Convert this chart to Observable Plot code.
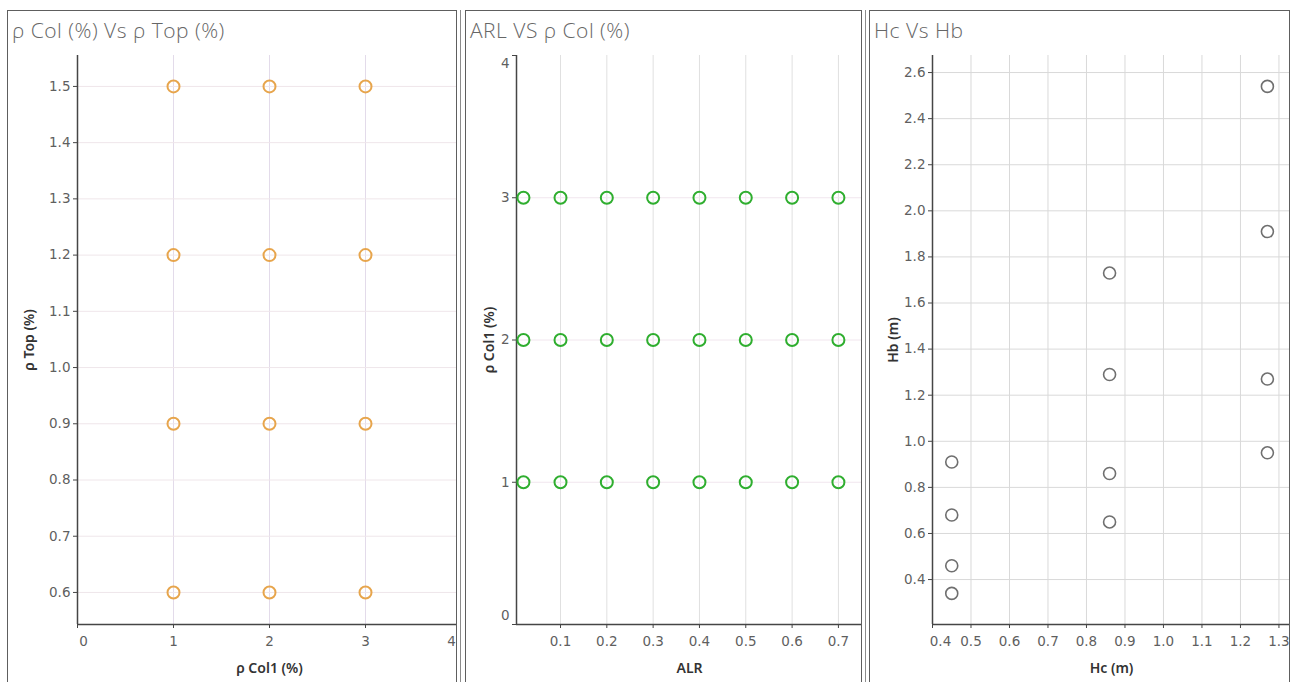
<!DOCTYPE html>
<html>
<head>
<meta charset="utf-8">
<script src="https://cdn.jsdelivr.net/npm/d3@7"></script>
<script src="https://cdn.jsdelivr.net/npm/@observablehq/plot@0.6"></script>
<style>
  html, body { margin: 0; padding: 0; background: #fff; }
  #page { position: relative; width: 1298px; height: 682px; overflow: hidden; background: #fff; }
  .clip { position: absolute; overflow: hidden; }
  .clip svg { position: absolute; left: 0; top: 0; max-width: none !important; }
  .frame { position: absolute; box-sizing: border-box; border: 1.5px solid #5e5e5e; pointer-events: none; }
  .title { position: absolute; font-family: "Open Sans", sans-serif; font-weight: 300; font-size: 21px; letter-spacing: 0.5px; color: #666; white-space: nowrap; line-height: 1; }
  .splitter { position: absolute; top: 10px; width: 1px; height: 672px; background: #8c8c8c; }
</style>
</head>
<body>
<div id="page"></div>
<script>
// ---- Panel 1: ρ Col1 vs ρ Top ----
const p1Title = "ρ Col (%) Vs ρ Top (%)";
const p1XLabel = "ρ Col1 (%)";
const p1YLabel = "ρ Top (%)";
const p1Col = [1, 1, 1, 1, 2, 2, 2, 2, 3, 3, 3, 3];
const p1Top = [0.6, 0.9, 1.2, 1.5, 0.6, 0.9, 1.2, 1.5, 0.6, 0.9, 1.2, 1.5];
const p1XTicks = [0, 1, 2, 3, 4];
const p1YTicks = [0.6, 0.7, 0.8, 0.9, 1.0, 1.1, 1.2, 1.3, 1.4, 1.5];

// ---- Panel 2: ALR vs ρ Col1 ----
const p2Title = "ARL VS ρ Col (%)";
const p2XLabel = "ALR";
const p2YLabel = "ρ Col1 (%)";
const p2Alr = [0.02, 0.1, 0.2, 0.3, 0.4, 0.5, 0.6, 0.7,
               0.02, 0.1, 0.2, 0.3, 0.4, 0.5, 0.6, 0.7,
               0.02, 0.1, 0.2, 0.3, 0.4, 0.5, 0.6, 0.7];
const p2Col = [1, 1, 1, 1, 1, 1, 1, 1,
               2, 2, 2, 2, 2, 2, 2, 2,
               3, 3, 3, 3, 3, 3, 3, 3];
const p2XTicks = [0.1, 0.2, 0.3, 0.4, 0.5, 0.6, 0.7];
const p2YTicks = [0, 1, 2, 3, 4];

// ---- Panel 3: Hc vs Hb ----
const p3Title = "Hc Vs Hb";
const p3XLabel = "Hc (m)";
const p3YLabel = "Hb (m)";
const p3Hc = [0.45, 0.45, 0.45, 0.45, 0.86, 0.86, 0.86, 0.86, 1.27, 1.27, 1.27, 1.27];
const p3Hb = [0.91, 0.68, 0.46, 0.34, 1.73, 1.29, 0.86, 0.65, 2.54, 1.91, 1.27, 0.95];
const p3XTicks = [0.4, 0.5, 0.6, 0.7, 0.8, 0.9, 1.0, 1.1, 1.2, 1.3];
const p3YTicks = [0.4, 0.6, 0.8, 1.0, 1.2, 1.4, 1.6, 1.8, 2.0, 2.2, 2.4, 2.6];

const page = document.getElementById("page");
const TICK = 4, PAD = 3, XPAD = 8;
const axisColor = "#454545";
const tickText = "#5f5f5f";
const f1 = d3.format(".1f");

function panel({left, top, width, height, title}) {
  const clip = document.createElement("div");
  clip.className = "clip";
  Object.assign(clip.style, {left: left + "px", top: top + "px", width: width + "px", height: height + "px"});
  page.appendChild(clip);
  const frame = document.createElement("div");
  frame.className = "frame";
  Object.assign(frame.style, {left: left + "px", top: top + "px", width: width + "px", height: height + "px"});
  page.appendChild(frame);
  const t = document.createElement("div");
  t.className = "title";
  t.textContent = title;
  Object.assign(t.style, {left: (left + 5) + "px", top: (top + 10) + "px"});
  page.appendChild(t);
  return clip;
}

function axisLabels(xLabel, yLabel, xdy, ydx) {
  const common = {fill: "#333", fontSize: 14, fontWeight: 600, fontFamily: "'Noto Sans', sans-serif"};
  return [
    Plot.text([xLabel], {...common, text: d => d, frameAnchor: "bottom", dy: xdy, lineAnchor: "middle", textAnchor: "middle"}),
    Plot.text([yLabel], {...common, text: d => d, frameAnchor: "left", dx: ydx, rotate: -90, lineAnchor: "middle", textAnchor: "middle"})
  ];
}

const plotStyle = {fontFamily: "'DejaVu Sans', sans-serif", fontSize: "13.5px", color: tickText, background: "transparent", overflow: "visible"};

// Panel 1
{
  const W = 450;
  const clip = panel({left: 7, top: 10, width: W, height: 700, title: p1Title});
  const idx = d3.range(p1Col.length);
  const yMin = 0.543;
  const svg = Plot.plot({
    width: W + 10, height: 700,
    marginLeft: 70, marginRight: 6, marginTop: 45, marginBottom: 86,
    x: {domain: [0, 4]},
    y: {domain: [yMin, 1.555]},
    style: plotStyle,
    marks: [
      Plot.gridX([1, 2, 3], {stroke: "#e3dbea", strokeOpacity: 1}),
      Plot.gridY(p1YTicks, {stroke: "#efe6ea", strokeOpacity: 1}),
      Plot.ruleX([0], {stroke: axisColor, strokeWidth: 1.5}),
      Plot.ruleY([yMin], {stroke: axisColor, strokeWidth: 1.5}),
      Plot.axisX(p1XTicks, {tickSize: TICK, tickPadding: XPAD, stroke: axisColor, fill: tickText, label: null,
        tickFormat: d => (d === 0 || d === 4) ? "" : String(d)}),
      Plot.text([0], {x: d => d, frameAnchor: "bottom", dy: TICK + XPAD, dx: 6, lineAnchor: "top", text: d => String(d), fill: tickText}),
      Plot.text([4], {x: d => d, frameAnchor: "bottom", dy: TICK + XPAD, dx: -10, lineAnchor: "top", text: d => String(d), fill: tickText}),
      Plot.axisY(p1YTicks, {tickSize: TICK, tickPadding: PAD, stroke: axisColor, fill: tickText, label: null, tickFormat: f1}),
      ...axisLabels(p1XLabel, p1YLabel, 44, -48),
      Plot.dot(idx, {x: i => p1Col[i], y: i => p1Top[i], r: 6, stroke: "#e7a54c", strokeWidth: 2, fill: "none"})
    ]
  });
  clip.appendChild(svg);
}

// Panel 2
{
  const W = 397;
  const clip = panel({left: 465, top: 10, width: W, height: 700, title: p2Title});
  const idx = d3.range(p2Alr.length);
  const xMin = 0.005;
  const svg = Plot.plot({
    width: 400, height: 700,
    marginLeft: 51, marginRight: 3, marginTop: 45, marginBottom: 86,
    x: {domain: [xMin, 0.752]},
    y: {domain: [0, 4]},
    style: plotStyle,
    marks: [
      Plot.gridX(p2XTicks, {stroke: "#e0e0e0", strokeOpacity: 1}),
      Plot.gridY([1, 2, 3], {stroke: "#f1e6ee", strokeOpacity: 1}),
      Plot.ruleX([xMin], {stroke: axisColor, strokeWidth: 1.5}),
      Plot.ruleY([0], {stroke: axisColor, strokeWidth: 1.5}),
      Plot.axisX(p2XTicks, {tickSize: TICK, tickPadding: XPAD, stroke: axisColor, fill: tickText, label: null, tickFormat: f1}),
      Plot.axisY(p2YTicks, {tickSize: TICK, tickPadding: PAD, stroke: axisColor, fill: tickText, label: null,
        tickFormat: d => (d === 0 || d === 4) ? "" : String(d)}),
      Plot.text([0], {y: d => d, frameAnchor: "left", dx: -(TICK + PAD), dy: -9, textAnchor: "end", text: d => String(d), fill: tickText}),
      Plot.text([4], {y: d => d, frameAnchor: "left", dx: -(TICK + PAD), dy: 8, textAnchor: "end", text: d => String(d), fill: tickText}),
      ...axisLabels(p2XLabel, p2YLabel, 44, -27),
      Plot.dot(idx, {x: i => p2Alr[i], y: i => p2Col[i], r: 6, stroke: "#2fae2f", strokeWidth: 2, fill: "none"})
    ]
  });
  clip.appendChild(svg);
}

// Panel 3
{
  const W = 421;
  const clip = panel({left: 869, top: 10, width: W, height: 700, title: p3Title});
  const idx = d3.range(p3Hc.length);
  const yMin = 0.205;
  const svg = Plot.plot({
    width: W, height: 700,
    marginLeft: 63, marginRight: 0, marginTop: 45, marginBottom: 86,
    x: {domain: [0.4, 1.33]},
    y: {domain: [yMin, 2.674]},
    style: plotStyle,
    marks: [
      Plot.gridX(p3XTicks.slice(1), {stroke: "#d9d9d9", strokeOpacity: 1}),
      Plot.gridY(p3YTicks, {stroke: "#d9d9d9", strokeOpacity: 1}),
      Plot.ruleX([0.4], {stroke: axisColor, strokeWidth: 1.5}),
      Plot.ruleY([yMin], {stroke: axisColor, strokeWidth: 1.5}),
      Plot.axisX(p3XTicks, {tickSize: TICK, tickPadding: XPAD, stroke: axisColor, fill: tickText, label: null,
        tickFormat: d => d === 0.4 ? "" : f1(d)}),
      Plot.text([0.4], {x: d => d, frameAnchor: "bottom", dy: TICK + XPAD, dx: 8, lineAnchor: "top", text: d => f1(d), fill: tickText}),
      Plot.axisY(p3YTicks, {tickSize: TICK, tickPadding: PAD, stroke: axisColor, fill: tickText, label: null, tickFormat: f1}),
      ...axisLabels(p3XLabel, p3YLabel, 44, -39),
      Plot.dot(idx, {x: i => p3Hc[i], y: i => p3Hb[i], r: 6, stroke: "#6f6f6f", strokeWidth: 1.6, fill: "none"})
    ]
  });
  clip.appendChild(svg);
}

// thin splitter lines beside the panel edges
for (const x of [460, 865]) {
  const s = document.createElement("div");
  s.className = "splitter";
  s.style.left = x + "px";
  page.appendChild(s);
}
</script>
</body>
</html>
